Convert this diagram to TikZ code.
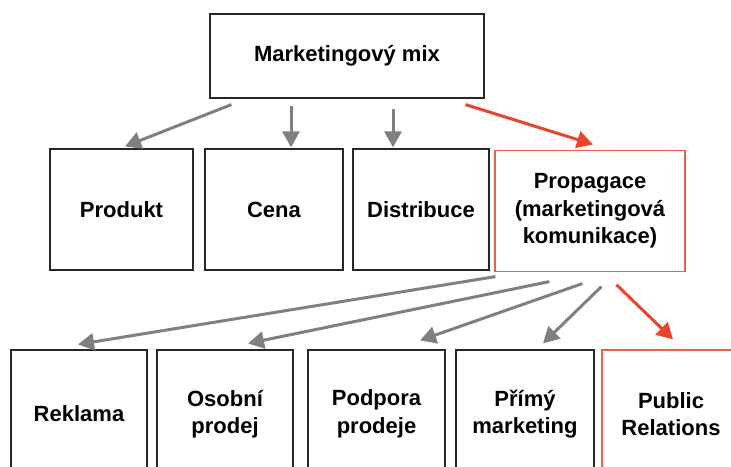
\documentclass[tikz,border=0pt]{standalone}
\usepackage{fontspec}
\setmainfont{Liberation Sans}
\usetikzlibrary{arrows.meta}
\definecolor{arrgray}{HTML}{808080}
\definecolor{accred}{HTML}{E8452C}
\begin{document}
\begin{tikzpicture}[x=1pt,y=-1pt,
  box/.style={draw=black!85,line width=1.2pt,inner sep=0pt,align=center,
    font=\fontsize{22}{27.5}\selectfont\bfseries},
  redbox/.style={box,draw=accred!85},
  midbox/.style={box,minimum height=121pt},
  lowbox/.style={box,minimum height=128pt},
  garrow/.style={draw=arrgray,line width=3pt,-{Triangle[length=16pt,width=17pt]}},
  rarrow/.style={garrow,draw=accred}]
\useasboundingbox (0,0) rectangle (731,466);
\clip (0,0) rectangle (731,466);

\node[box,minimum width=274pt,minimum height=84pt] (mix) at (347,56) {Marketingový mix};

\node[midbox,minimum width=143pt] (produkt) at (121.5,209.5) {Produkt};
\node[midbox,minimum width=138pt] (cena) at (274,209.5) {Cena};
\node[midbox,minimum width=136pt] (distribuce) at (421,209.5) {Distribuce};
\node[midbox,redbox,minimum width=190pt] (propagace) at (590,211) {Propagace\\(marketingová\\komunikace)};

\node[lowbox,minimum width=136pt] (reklama) at (79,414) {Reklama};
\node[lowbox,minimum width=136pt] (osobni) at (225,414) {Osobní\\prodej};
\node[lowbox,minimum width=137pt] (podpora) at (376.5,414) {Podpora\\prodeje};
\node[lowbox,minimum width=138pt] (primy) at (525,414) {Přímý\\marketing};
\node[lowbox,redbox,minimum width=138pt] (pr) at (671,414) {Public\\Relations};

% mix -> 4P
\draw[garrow] ([xshift=22pt,yshift=-6pt]mix.south west) -- ([xshift=3.5pt,yshift=2pt]produkt.north);
\draw[garrow] ([xshift=-56pt,yshift=-7pt]mix.south) -- ([xshift=17pt,yshift=1pt]cena.north);
\draw[garrow] ([xshift=46pt,yshift=-10pt]mix.south) -- ([xshift=-28pt,yshift=1pt]distribuce.north);
\draw[rarrow] ([xshift=-19pt,yshift=-6pt]mix.south east) -- ([xshift=3pt,yshift=5.5pt]propagace.north);

% propagace -> nastroje
\draw[garrow] ([xshift=1pt,yshift=-4.5pt]propagace.south west) -- ([xshift=-1pt,yshift=5pt]reklama.north);
\draw[garrow] ([xshift=55pt,yshift=-9.5pt]propagace.south west) -- ([xshift=23pt,yshift=6pt]osobni.north);
\draw[garrow] ([xshift=88pt,yshift=-11.5pt]propagace.south west) -- ([xshift=43.5pt,yshift=9pt]podpora.north);
\draw[garrow] ([xshift=107pt,yshift=-14.5pt]propagace.south west) -- ([xshift=18pt,yshift=6pt]primy.north);
\draw[rarrow] ([xshift=122pt,yshift=-12.5pt]propagace.south west) -- ([xshift=2pt,yshift=10pt]pr.north);
\end{tikzpicture}
\end{document}
